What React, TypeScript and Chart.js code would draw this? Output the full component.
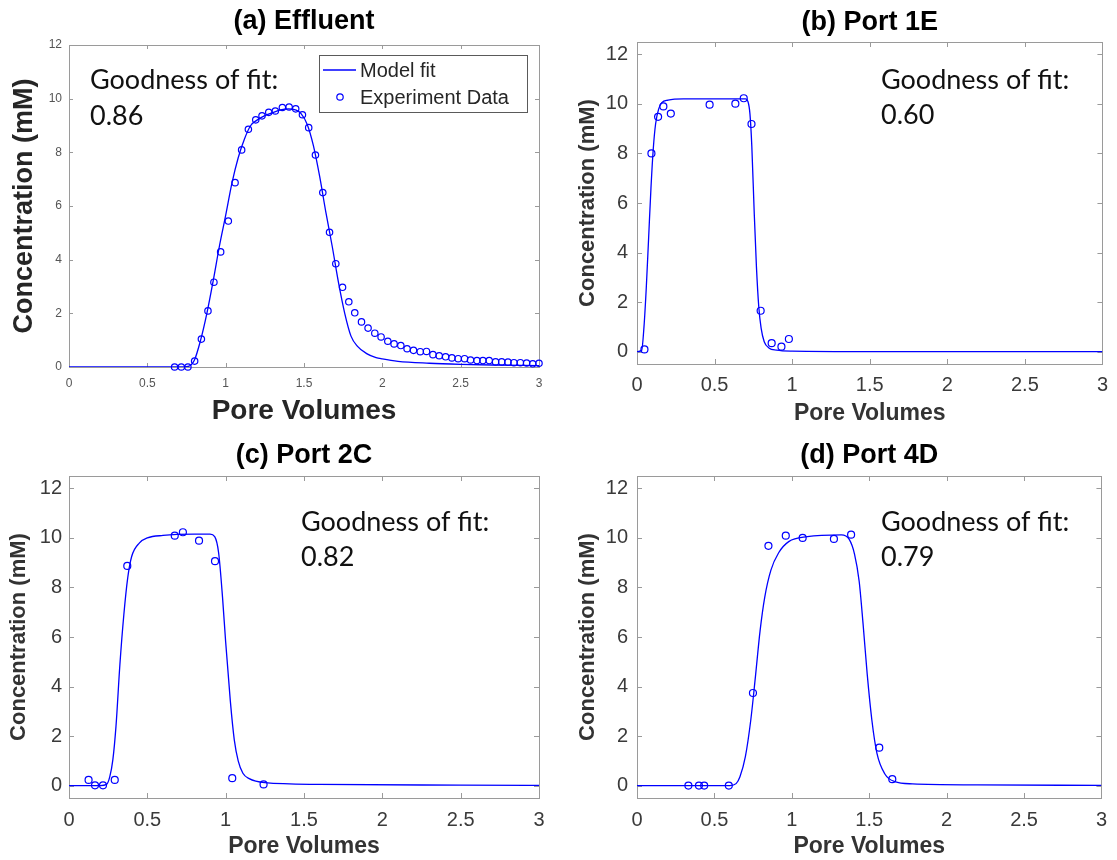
import React, { useEffect, useRef } from 'react';
import { Chart, registerables } from 'chart.js';

Chart.register(...registerables);

// ---------- tick values ----------
const X_TICKS = [0, 0.5, 1, 1.5, 2, 2.5, 3];
const Y_TICKS = [0, 2, 4, 6, 8, 10, 12];

// ---------- (a) Effluent ----------
const effluentDataX = [0.674, 0.717, 0.759, 0.802, 0.845, 0.887, 0.925, 0.968, 1.017, 1.06, 1.102, 1.145, 1.192, 1.232, 1.275, 1.317, 1.362, 1.405, 1.447, 1.49, 1.53, 1.573, 1.62, 1.663, 1.703, 1.746, 1.786, 1.824, 1.867, 1.909, 1.952, 1.992, 2.035, 2.075, 2.118, 2.158, 2.199, 2.242, 2.282, 2.323, 2.363, 2.404, 2.444, 2.484, 2.525, 2.563, 2.604, 2.642, 2.682, 2.723, 2.762, 2.802, 2.84, 2.881, 2.921, 2.96, 3.0];
const effluentDataY = [0, 0, 0, 0.22, 1.04, 2.09, 3.16, 4.29, 5.44, 6.87, 8.09, 8.86, 9.21, 9.36, 9.49, 9.54, 9.67, 9.69, 9.62, 9.4, 8.92, 7.9, 6.5, 5.02, 3.85, 2.97, 2.43, 2.02, 1.68, 1.45, 1.26, 1.12, 0.96, 0.86, 0.8, 0.68, 0.62, 0.57, 0.58, 0.46, 0.42, 0.38, 0.34, 0.31, 0.31, 0.26, 0.24, 0.24, 0.24, 0.19, 0.19, 0.18, 0.16, 0.16, 0.15, 0.12, 0.14];
const effluentFitX = [0, 0.5, 0.7, 0.76, 0.8, 0.84, 0.88, 0.92, 0.96, 1.0, 1.04, 1.08, 1.12, 1.16, 1.2, 1.25, 1.3, 1.35, 1.4, 1.45, 1.48, 1.52, 1.56, 1.6, 1.64, 1.68, 1.72, 1.76, 1.8, 1.84, 1.9, 1.96, 2.0, 2.1, 2.3, 2.5, 2.7, 3.0];
const effluentFitY = [0, 0, 0, 0.02, 0.25, 1.0, 2.0, 3.2, 4.5, 5.65, 6.85, 7.8, 8.5, 9.0, 9.2, 9.37, 9.48, 9.58, 9.62, 9.57, 9.45, 9.05, 8.25, 7.1, 5.75, 4.5, 3.15, 2.0, 1.15, 0.78, 0.5, 0.35, 0.3, 0.21, 0.14, 0.1, 0.075, 0.05];

// ---------- (b) Port 1E ----------
const port1EDataX = [0.048, 0.093, 0.136, 0.17, 0.218, 0.468, 0.634, 0.688, 0.738, 0.797, 0.868, 0.931, 0.979];
const port1EDataY = [0.09, 8.0, 9.48, 9.9, 9.61, 9.97, 10.01, 10.23, 9.19, 1.65, 0.34, 0.2, 0.51];
const port1EFitX = [0, 0.03, 0.045, 0.06, 0.075, 0.09, 0.105, 0.12, 0.14, 0.16, 0.2, 0.3, 0.5, 0.7, 0.715, 0.728, 0.74, 0.755, 0.77, 0.785, 0.8, 0.82, 0.85, 0.9, 1.0, 1.5, 3.0];
const port1EFitY = [0, 0.05, 1.0, 2.6, 4.6, 6.6, 8.2, 9.2, 9.8, 10.05, 10.15, 10.2, 10.2, 10.2, 10.1, 9.6, 8.3, 5.7, 3.4, 1.8, 0.95, 0.4, 0.15, 0.06, 0.02, 0, 0];

// ---------- (c) Port 2C ----------
const port2CDataX = [0.125, 0.166, 0.217, 0.292, 0.372, 0.675, 0.727, 0.83, 0.932, 1.042, 1.242];
const port2CDataY = [0.23, 0.01, 0.01, 0.23, 8.87, 10.09, 10.23, 9.89, 9.06, 0.3, 0.05];
const port2CFitX = [0, 0.2, 0.24, 0.26, 0.28, 0.3, 0.325, 0.35, 0.375, 0.4, 0.45, 0.5, 0.6, 0.8, 0.9, 0.93, 0.955, 0.98, 1.0, 1.03, 1.055, 1.08, 1.11, 1.15, 1.25, 1.6, 2.5, 3.0];
const port2CFitY = [0, 0, 0.05, 0.35, 1.05, 2.4, 4.9, 6.9, 8.4, 9.25, 9.8, 10.0, 10.1, 10.15, 10.15, 10.05, 9.4, 7.6, 5.8, 3.4, 1.85, 1.0, 0.5, 0.28, 0.12, 0.05, 0.02, 0.01];

// ---------- (d) Port 4D ----------
const port4DDataX = [0.332, 0.4, 0.434, 0.593, 0.749, 0.849, 0.961, 1.07, 1.272, 1.383, 1.565, 1.649];
const port4DDataY = [0, 0, 0, 0, 3.74, 9.68, 10.09, 10.0, 9.96, 10.13, 1.53, 0.26];
const port4DFitX = [0, 0.6, 0.64, 0.665, 0.7, 0.735, 0.765, 0.795, 0.825, 0.865, 0.915, 0.98, 1.1, 1.32, 1.37, 1.405, 1.435, 1.46, 1.487, 1.517, 1.55, 1.6, 1.665, 1.78, 2.2, 3.0];
const port4DFitY = [0, 0, 0.08, 0.36, 1.17, 2.65, 4.4, 6.25, 7.6, 8.7, 9.4, 9.85, 10.05, 10.12, 9.95, 9.35, 8.25, 6.55, 4.5, 2.65, 1.3, 0.48, 0.16, 0.07, 0.03, 0.01];

const TITLES = ['(a) Effluent', '(b) Port 1E', '(c) Port 2C', '(d) Port 4D'];
const GOF_VALUES = ['0.86', '0.60', '0.82', '0.79'];
const GOF_LABEL = 'Goodness of fit:';
const X_TITLE = 'Pore Volumes';
const Y_TITLE = 'Concentration (mM)';
const LEGEND_LABELS = ['Model fit', 'Experiment Data'];

const BLUE = '#0000ff';
const SANS = '"Liberation Sans", Arial, Helvetica, sans-serif';
const GOF_FONT = 'Lato, "Open Sans", sans-serif';

type PanelCfg = {
  left: number; top: number; w: number; h: number;
  yw: number; padTop: number; padRight: number; xh: number;
  yMin: number; yMax: number;
  title: string; titleY: number;
  gof: string; gofX: number; gofY1: number; gofY2: number;
  dataX: number[]; dataY: number[]; fitX: number[]; fitY: number[];
  tickFont: number; tickColor: string; xTickPad: number; yTickPad: number;
  xTitleFont: number; yTitleFont: number; axisTitleColor: string;
  xTitlePadBottom: number; yTitlePadTop: number;
  pointR: number; tickLen: number;
  legend: boolean;
};

const zip = (xs: number[], ys: number[]) => xs.map((x, i) => ({ x, y: ys[i] }));

function decorPlugin(p: PanelCfg) {
  return {
    id: 'decor',
    beforeDatasetsDraw(chart: any) {
      const { ctx, chartArea } = chart;
      const { left, right, top, bottom } = chartArea;
      const xs = chart.scales.x;
      const ys = chart.scales.y;
      ctx.save();
      ctx.strokeStyle = '#9a9a9a';
      ctx.lineWidth = 1;
      ctx.strokeRect(Math.round(left) + 0.5, Math.round(top) + 0.5, Math.round(right - left), Math.round(bottom - top));
      ctx.beginPath();
      for (const v of X_TICKS) {
        const px = Math.round(xs.getPixelForValue(v)) + 0.5;
        ctx.moveTo(px, bottom);
        ctx.lineTo(px, bottom - p.tickLen);
        ctx.moveTo(px, top);
        ctx.lineTo(px, top + p.tickLen);
      }
      for (const v of Y_TICKS) {
        const py = Math.round(ys.getPixelForValue(v)) + 0.5;
        ctx.moveTo(left, py);
        ctx.lineTo(left + p.tickLen, py);
        ctx.moveTo(right, py);
        ctx.lineTo(right - p.tickLen, py);
      }
      ctx.stroke();
      ctx.restore();
    },
    afterDraw(chart: any) {
      const { ctx, chartArea } = chart;
      ctx.save();
      // panel title
      ctx.fillStyle = '#000';
      ctx.textAlign = 'center';
      ctx.textBaseline = 'middle';
      ctx.font = `bold 27px ${SANS}`;
      ctx.fillText(p.title, (chartArea.left + chartArea.right) / 2, p.titleY);
      // goodness of fit
      ctx.textAlign = 'left';
      ctx.fillStyle = '#111';
      ctx.font = `27px ${GOF_FONT}`;
      ctx.fillText(GOF_LABEL, p.gofX, p.gofY1);
      ctx.fillText(p.gof, p.gofX, p.gofY2);
      // legend
      if (p.legend) {
        const bx = 319, by = 55, bw = 208, bh = 57;
        ctx.fillStyle = '#ffffff';
        ctx.fillRect(bx, by, bw, bh);
        ctx.strokeStyle = '#5a5a5a';
        ctx.lineWidth = 1;
        ctx.strokeRect(bx + 0.5, by + 0.5, bw, bh);
        ctx.strokeStyle = BLUE;
        ctx.lineWidth = 1.3;
        ctx.beginPath();
        ctx.moveTo(323, 70);
        ctx.lineTo(356, 70);
        ctx.stroke();
        ctx.lineWidth = 1.2;
        ctx.beginPath();
        ctx.arc(340, 97, 3.2, 0, Math.PI * 2);
        ctx.stroke();
        ctx.fillStyle = '#262626';
        ctx.font = `20px ${SANS}`;
        ctx.textBaseline = 'middle';
        ctx.fillText(LEGEND_LABELS[0], 360, 71);
        ctx.fillText(LEGEND_LABELS[1], 360, 98);
      }
      ctx.restore();
    },
  };
}

function buildConfig(p: PanelCfg): any {
  return {
    type: 'line',
    data: {
      datasets: [
        {
          label: LEGEND_LABELS[0],
          data: zip(p.fitX, p.fitY),
          borderColor: BLUE,
          backgroundColor: BLUE,
          borderWidth: 1.3,
          pointRadius: 0,
          cubicInterpolationMode: 'monotone',
          fill: false,
          order: 2,
        },
        {
          label: LEGEND_LABELS[1],
          data: zip(p.dataX, p.dataY),
          showLine: false,
          pointStyle: 'circle',
          pointRadius: p.pointR,
          pointBorderWidth: 1.2,
          pointBorderColor: BLUE,
          pointBackgroundColor: 'rgba(0,0,0,0)',
          borderColor: BLUE,
          backgroundColor: 'rgba(0,0,0,0)',
          clip: 8,
          order: 1,
        },
      ],
    },
    options: {
      responsive: false,
      animation: false,
      devicePixelRatio: 1,
      events: [],
      layout: { padding: { left: 0, top: p.padTop, right: p.padRight, bottom: 0 } },
      plugins: {
        legend: { display: false },
        title: { display: false },
        tooltip: { enabled: false },
      },
      scales: {
        x: {
          type: 'linear',
          min: 0,
          max: 3,
          afterBuildTicks: (s: any) => { s.ticks = X_TICKS.map((v) => ({ value: v })); },
          afterFit: (s: any) => { s.height = p.xh; },
          grid: { display: false, drawTicks: false, tickLength: 0 },
          border: { display: false },
          ticks: {
            autoSkip: false,
            maxRotation: 0,
            padding: p.xTickPad,
            color: p.tickColor,
            font: { family: SANS, size: p.tickFont },
            callback: (v: any) => String(v),
          },
          title: {
            display: true,
            text: X_TITLE,
            color: p.axisTitleColor,
            font: { family: SANS, size: p.xTitleFont, weight: 'bold' },
            padding: { top: 0, bottom: p.xTitlePadBottom },
          },
        },
        y: {
          type: 'linear',
          min: p.yMin,
          max: p.yMax,
          afterBuildTicks: (s: any) => { s.ticks = Y_TICKS.map((v) => ({ value: v })); },
          afterFit: (s: any) => { s.width = p.yw; },
          grid: { display: false, drawTicks: false, tickLength: 0 },
          border: { display: false },
          ticks: {
            autoSkip: false,
            padding: p.yTickPad,
            color: p.tickColor,
            font: { family: SANS, size: p.tickFont },
            callback: (v: any) => String(v),
          },
          title: {
            display: true,
            text: Y_TITLE,
            color: p.axisTitleColor,
            font: { family: SANS, size: p.yTitleFont, weight: 'bold' },
            padding: { top: p.yTitlePadTop, bottom: 0 },
          },
        },
      },
    },
    plugins: [decorPlugin(p)],
  };
}

const PANELS: PanelCfg[] = [
  {
    left: 0, top: 0, w: 560, h: 430, yw: 69, padTop: 45, padRight: 21, xh: 63,
    yMin: 0, yMax: 12, title: TITLES[0], titleY: 22,
    gof: GOF_VALUES[0], gofX: 90, gofY1: 80, gofY2: 116,
    dataX: effluentDataX, dataY: effluentDataY, fitX: effluentFitX, fitY: effluentFitY,
    tickFont: 12, tickColor: '#555555', xTickPad: 9, yTickPad: 7,
    xTitleFont: 28, yTitleFont: 27, axisTitleColor: '#262626',
    xTitlePadBottom: 2, yTitlePadTop: 8,
    pointR: 3.2, tickLen: 4, legend: true,
  },
  {
    left: 560, top: 0, w: 557, h: 430, yw: 77, padTop: 42, padRight: 9, xh: 66,
    yMin: -0.5, yMax: 12.5, title: TITLES[1], titleY: 23,
    gof: GOF_VALUES[1], gofX: 321, gofY1: 80, gofY2: 115,
    dataX: port1EDataX, dataY: port1EDataY, fitX: port1EFitX, fitY: port1EFitY,
    tickFont: 20, tickColor: '#3a3a3a', xTickPad: 9, yTickPad: 9,
    xTitleFont: 23, yTitleFont: 22, axisTitleColor: '#333333',
    xTitlePadBottom: 3, yTitlePadTop: 15,
    pointR: 3.5, tickLen: 5, legend: false,
  },
  {
    left: 0, top: 430, w: 560, h: 430, yw: 69, padTop: 46, padRight: 21, xh: 62,
    yMin: -0.5, yMax: 12.5, title: TITLES[2], titleY: 26,
    gof: GOF_VALUES[2], gofX: 301, gofY1: 92, gofY2: 127,
    dataX: port2CDataX, dataY: port2CDataY, fitX: port2CFitX, fitY: port2CFitY,
    tickFont: 20, tickColor: '#3a3a3a', xTickPad: 10, yTickPad: 7,
    xTitleFont: 23, yTitleFont: 22, axisTitleColor: '#333333',
    xTitlePadBottom: 0, yTitlePadTop: 6,
    pointR: 3.5, tickLen: 5, legend: false,
  },
  {
    left: 560, top: 430, w: 557, h: 430, yw: 77, padTop: 46, padRight: 9, xh: 62,
    yMin: -0.5, yMax: 12.5, title: TITLES[3], titleY: 26,
    gof: GOF_VALUES[3], gofX: 321, gofY1: 92, gofY2: 127,
    dataX: port4DDataX, dataY: port4DDataY, fitX: port4DFitX, fitY: port4DFitY,
    tickFont: 20, tickColor: '#3a3a3a', xTickPad: 10, yTickPad: 9,
    xTitleFont: 23, yTitleFont: 22, axisTitleColor: '#333333',
    xTitlePadBottom: 0, yTitlePadTop: 15,
    pointR: 3.5, tickLen: 5, legend: false,
  },
];

function Panel({ cfg }: { cfg: PanelCfg }) {
  const ref = useRef<HTMLCanvasElement | null>(null);
  useEffect(() => {
    if (!ref.current) return;
    const chart = new Chart(ref.current, buildConfig(cfg));
    return () => chart.destroy();
  }, [cfg]);
  return (
    <canvas
      ref={ref}
      width={cfg.w}
      height={cfg.h}
      style={{ position: 'absolute', left: cfg.left, top: cfg.top, width: cfg.w, height: cfg.h, display: 'block' }}
    />
  );
}

export default function App() {
  return (
    <div style={{ position: 'absolute', left: 0, top: 0, width: 1117, height: 860, background: '#ffffff', overflow: 'hidden' }}>
      {PANELS.map((p, i) => (
        <Panel key={i} cfg={p} />
      ))}
    </div>
  );
}
